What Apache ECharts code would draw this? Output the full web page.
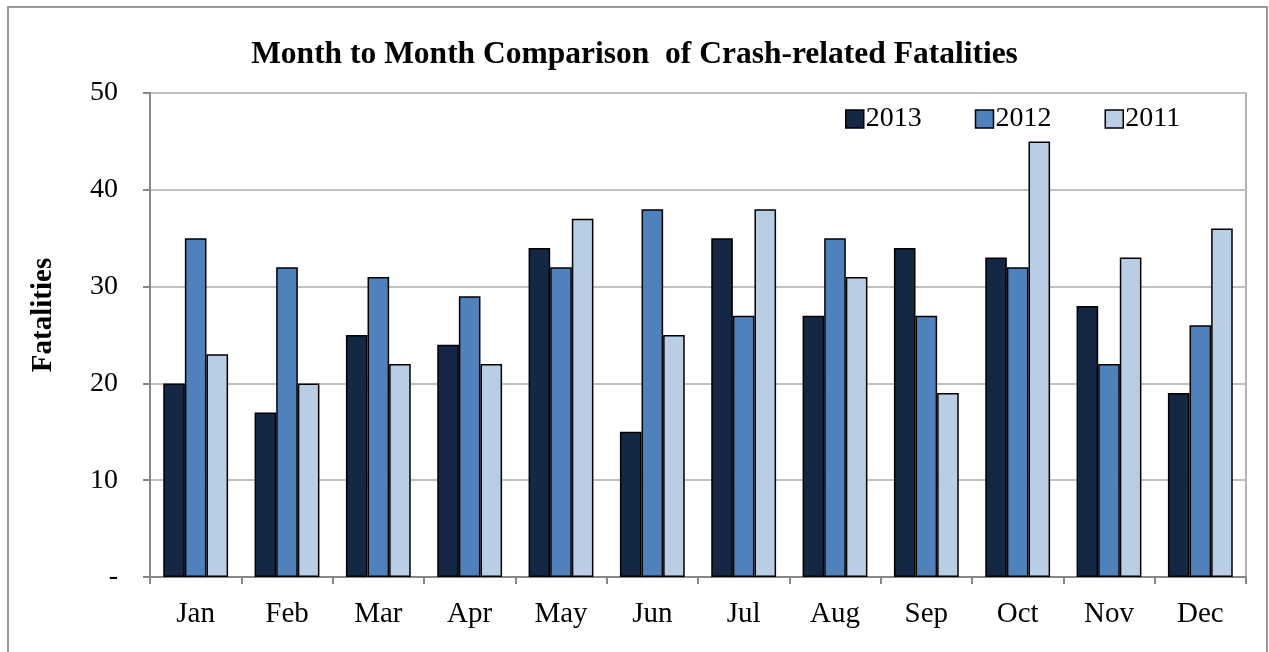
<!DOCTYPE html>
<html>
<head>
<meta charset="utf-8">
<script src="https://cdn.jsdelivr.net/npm/echarts@6/dist/echarts.min.js"></script>
<style>
html,body{margin:0;padding:0;background:#fff;}
#c{width:1269px;height:652px;}
</style>
</head>
<body>
<div id="c"></div>
<script>
const months = ['Jan','Feb','Mar','Apr','May','Jun','Jul','Aug','Sep','Oct','Nov','Dec'];
const years = ['2013','2012','2011'];
const v2013 = [20,17,25,24,34,15,35,27,34,33,28,19];
const v2012 = [35,32,31,29,32,38,27,35,27,32,22,26];
const v2011 = [23,20,22,22,37,25,38,31,19,45,33,36];
const colors = ['#142846','#4f81bd','#b9cde5'];
const font = 'Liberation Serif, Times New Roman, serif';

const chart = echarts.init(document.getElementById('c'));
const mk = (name, data, color) => ({
  name, type:'bar', data,
  barGap:'0%', barCategoryGap:'29%',
  itemStyle:{color, borderColor:'#000', borderWidth:1.5},
  emphasis:{disabled:true}
});
chart.setOption({
  animation:false,
  backgroundColor:'#fff',
  title:{text:'Month to Month Comparison  of Crash-related Fatalities', left:'center', top:34,
    textStyle:{fontFamily:font, fontWeight:'bold', fontSize:31.5, color:'#000'}},
  legend:{data:years, left:840, top:100, itemWidth:18, itemHeight:18, itemGap:53,
    icon:'rect',
    itemStyle:{borderColor:'#000', borderWidth:1.5},
    textStyle:{fontFamily:font, fontSize:28, color:'#000', padding:[0,0,0,-3]}},
  grid:{left:150, right:23, top:93, bottom:75, show:true, borderColor:'#999', borderWidth:1.5},
  xAxis:{type:'category', data:months,
    axisLine:{lineStyle:{color:'#888', width:2}},
    axisTick:{show:true, length:7, lineStyle:{color:'#888', width:2}},
    axisLabel:{fontFamily:font, fontSize:29, color:'#000', margin:23}},
  yAxis:{type:'value', min:0, max:50, interval:10,
    name:'Fatalities', nameLocation:'middle', nameGap:92, nameRotate:90,
    nameTextStyle:{fontFamily:font, fontWeight:'bold', fontSize:29, color:'#000', padding:[0,0,0,40]},
    axisLine:{show:true, lineStyle:{color:'#888', width:2}},
    axisTick:{show:true, length:7, lineStyle:{color:'#888', width:2}},
    splitLine:{lineStyle:{color:'#c0c0c0', width:2}},
    axisLabel:{fontFamily:font, fontSize:28, color:'#000', margin:32,
      formatter: v => v === 0 ? '-' : String(v)}},
  series:[mk(years[0], v2013, colors[0]), mk(years[1], v2012, colors[1]), mk(years[2], v2011, colors[2])],
  graphic:[{type:'rect', shape:{x:8, y:7, width:1259, height:660}, style:{fill:'none', stroke:'#999', lineWidth:2}, silent:true}]
});
</script>
</body>
</html>
